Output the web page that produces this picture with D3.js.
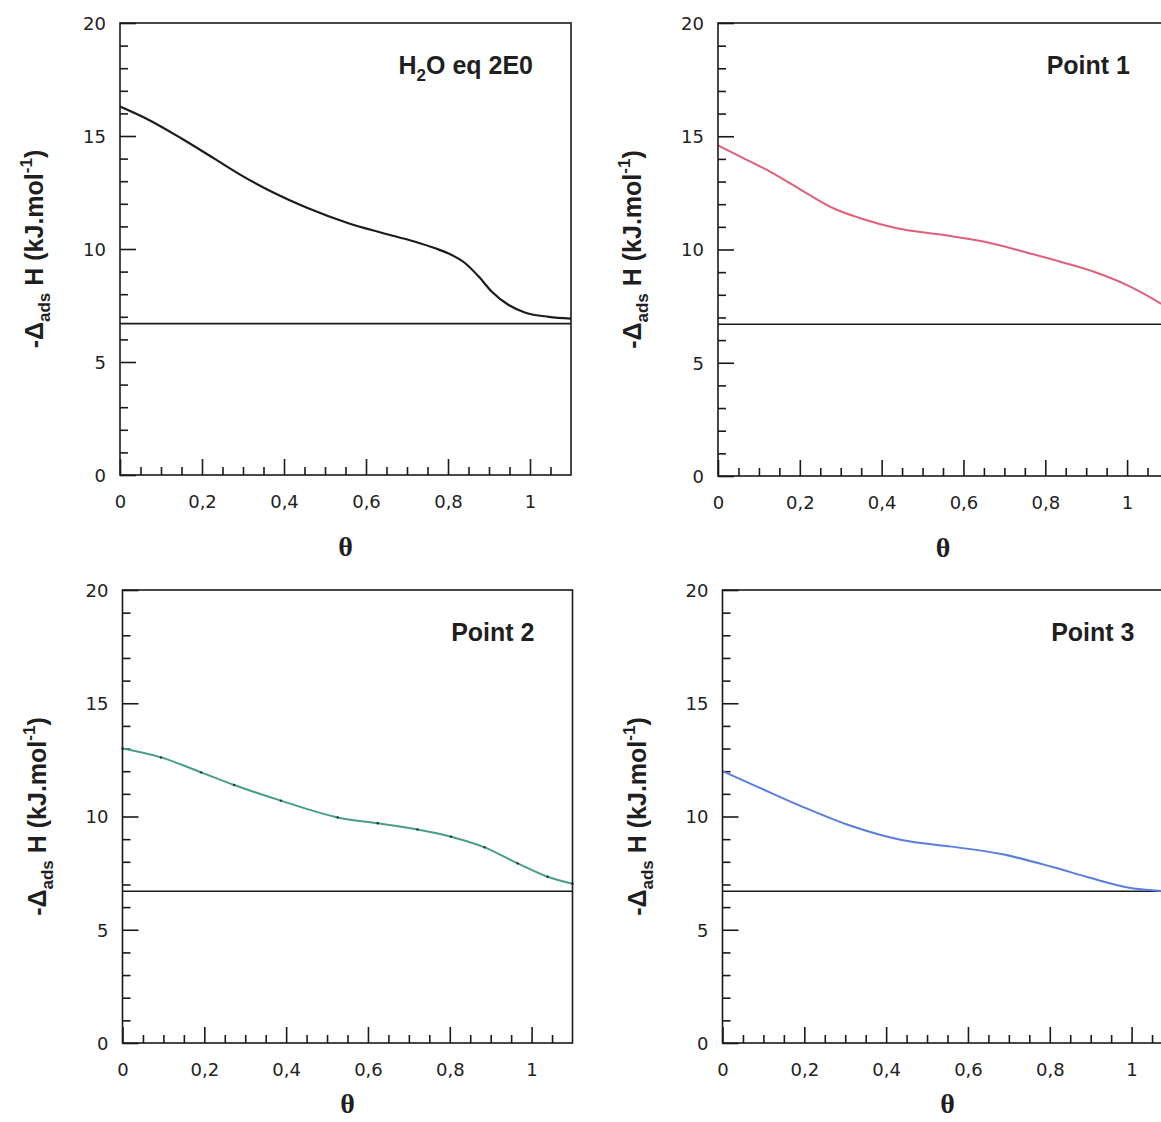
<!DOCTYPE html>
<html>
<head>
<meta charset="utf-8">
<script src="https://cdn.jsdelivr.net/npm/d3@7"></script>
<style>
  html, body { margin: 0; padding: 0; background: #fff; }
  svg { display: block; }
</style>
</head>
<body>
<svg id="chart" width="1161" height="1122"></svg>
<script>
// ---------- data ----------
const xMajorTicks = [0, 0.2, 0.4, 0.6, 0.8, 1];
const xMinorTicks = [0.05, 0.1, 0.15, 0.25, 0.3, 0.35, 0.45, 0.5, 0.55, 0.65, 0.7, 0.75, 0.85, 0.9, 0.95, 1.05];
const yMajorTicks = [0, 5, 10, 15, 20];
const yMinorTicks = [1, 2, 3, 4, 6, 7, 8, 9, 11, 12, 13, 14, 16, 17, 18, 19];

const panelTitles = ["H2O eq 2E0", "Point 1", "Point 2", "Point 3"];
const referenceLevel = [6.7, 6.7, 6.7, 6.7];

const thetaA = [0, 0.067, 0.149, 0.23, 0.295, 0.369, 0.459, 0.557, 0.638, 0.72, 0.769, 0.80, 0.842, 0.875, 0.907, 0.948, 0.989, 1.046, 1.1];
const heatA  = [16.3, 15.74, 14.9, 14.0, 13.27, 12.54, 11.8, 11.14, 10.72, 10.32, 10.03, 9.81, 9.37, 8.78, 8.11, 7.52, 7.18, 7.0, 6.92];

const thetaB = [0, 0.062, 0.127, 0.217, 0.282, 0.348, 0.437, 0.552, 0.649, 0.756, 0.837, 0.919, 1.0, 1.082, 1.1];
const heatB  = [14.6, 14.03, 13.44, 12.48, 11.82, 11.38, 10.94, 10.64, 10.35, 9.86, 9.46, 9.02, 8.43, 7.62, 7.42];

const thetaC = [0, 0.094, 0.192, 0.273, 0.387, 0.526, 0.624, 0.721, 0.803, 0.885, 0.966, 1.039, 1.1];
const heatC  = [13.0, 12.61, 11.95, 11.39, 10.7, 9.96, 9.7, 9.43, 9.11, 8.64, 7.93, 7.34, 7.03];

const thetaD = [0, 0.087, 0.193, 0.315, 0.438, 0.56, 0.682, 0.805, 0.903, 0.991, 1.065, 1.1];
const heatD  = [12.0, 11.3, 10.45, 9.58, 8.96, 8.67, 8.34, 7.78, 7.27, 6.87, 6.72, 6.68];

const seriesTheta = [thetaA, thetaB, thetaC, thetaD];
const seriesHeat  = [heatA, heatB, heatC, heatD];
const seriesColor = ["#1c1c1c", "#e0607a", "#47a07e", "#5a7ee0"];

// ---------- layout ----------
const panels = [
  { left: 120, top: 23, width: 451, height: 452, thetaY: 81 },
  { left: 718, top: 23, width: 450, height: 453, thetaY: 81 },
  { left: 122.5, top: 590, width: 450, height: 453, thetaY: 70 },
  { left: 722.5, top: 590, width: 450, height: 453, thetaY: 70 }
];

const svg = d3.select("#chart");
const tickFont = "'DejaVu Sans', Verdana, sans-serif";
const boldSans = "'Liberation Sans', Arial, Helvetica, sans-serif";

panels.forEach((p, i) => {
  const g = svg.append("g").attr("transform", `translate(${p.left},${p.top})`);
  const x = d3.scaleLinear().domain([0, 1.1]).range([0, p.width]);
  const y = d3.scaleLinear().domain([0, 20]).range([p.height, 0]);

  const clipId = "clip" + i;
  g.append("clipPath").attr("id", clipId)
    .append("rect").attr("x", 0).attr("y", 0).attr("width", p.width).attr("height", p.height);

  const xMinor = g.append("g").attr("transform", `translate(0,${p.height})`)
    .call(d3.axisBottom(x).tickValues(xMinorTicks).tickSize(-8).tickFormat(""));
  const xMajor = g.append("g").attr("transform", `translate(0,${p.height})`)
    .call(d3.axisBottom(x).tickValues(xMajorTicks).tickSize(-16)
      .tickFormat(d => String(d).replace(".", ",")));
  const yMinor = g.append("g")
    .call(d3.axisLeft(y).tickValues(yMinorTicks).tickSize(-8).tickFormat(""));
  const yMajor = g.append("g")
    .call(d3.axisLeft(y).tickValues(yMajorTicks).tickSize(-16).tickFormat(d3.format("d")));

  [xMinor, xMajor, yMinor, yMajor].forEach(a => {
    a.attr("font-size", null).attr("font-family", null);
    a.select(".domain").remove();
    a.selectAll(".tick line").attr("stroke", "#1a1a1a").attr("stroke-width", 1.6);
    a.selectAll(".tick text").attr("fill", "#222")
      .style("font-family", tickFont).style("font-size", "18px");
  });
  xMajor.selectAll(".tick text").attr("y", 33).attr("dy", 0);
  yMajor.selectAll(".tick text").attr("x", -14).attr("dy", "0.36em");

  g.append("line")
    .attr("x1", 0).attr("x2", p.width)
    .attr("y1", y(referenceLevel[i])).attr("y2", y(referenceLevel[i]))
    .attr("stroke", "#1a1a1a").attr("stroke-width", 1.6);

  const pts = seriesTheta[i].map((t, k) => [t, seriesHeat[i][k]]);
  const line = d3.line().x(d => x(d[0])).y(d => y(d[1])).curve(d3.curveMonotoneX);
  g.append("path").datum(pts)
    .attr("clip-path", `url(#${clipId})`)
    .attr("fill", "none")
    .attr("stroke", seriesColor[i])
    .attr("stroke-width", i === 0 ? 2.2 : 2)
    .attr("d", line);

  if (i === 2) {
    g.append("g").selectAll("circle").data(pts).join("circle")
      .attr("cx", d => x(d[0])).attr("cy", d => y(d[1])).attr("r", 1.2)
      .attr("fill", "#1d3a2e");
  }

  g.append("rect")
    .attr("x", 0).attr("y", 0).attr("width", p.width).attr("height", p.height)
    .attr("fill", "none").attr("stroke", "#1a1a1a").attr("stroke-width", 1.6);

  const title = g.append("text")
    .attr("x", p.width - 38).attr("y", 51)
    .attr("text-anchor", "end")
    .style("font-family", boldSans).style("font-weight", "bold").style("font-size", "25px")
    .attr("fill", "#1f1f1f");
  const tt = panelTitles[i];
  if (tt.startsWith("H2O")) {
    title.append("tspan").text("H");
    title.append("tspan").attr("dy", 7).style("font-size", "17px").text("2");
    title.append("tspan").attr("dy", -7).text(tt.slice(2));
  } else {
    title.text(tt);
  }

  g.append("text")
    .attr("x", p.width / 2).attr("y", p.height + p.thetaY)
    .attr("text-anchor", "middle")
    .style("font-family", "'Liberation Serif', 'Times New Roman', serif")
    .style("font-weight", "bold").style("font-size", "28px")
    .attr("fill", "#1f1f1f")
    .text("θ");

  const yl = g.append("text")
    .attr("transform", `translate(${-77},${p.height / 2}) rotate(-90)`)
    .attr("text-anchor", "middle")
    .style("font-family", boldSans).style("font-weight", "bold").style("font-size", "25px")
    .attr("fill", "#1f1f1f");
  yl.append("tspan").text("-Δ");
  yl.append("tspan").attr("dy", 7).style("font-size", "17px").text("ads");
  yl.append("tspan").attr("dy", -7).text(" H (kJ.mol");
  yl.append("tspan").attr("dy", -11).style("font-size", "17px").text("-1");
  yl.append("tspan").attr("dy", 11).text(")");
});
</script>
</body>
</html>
